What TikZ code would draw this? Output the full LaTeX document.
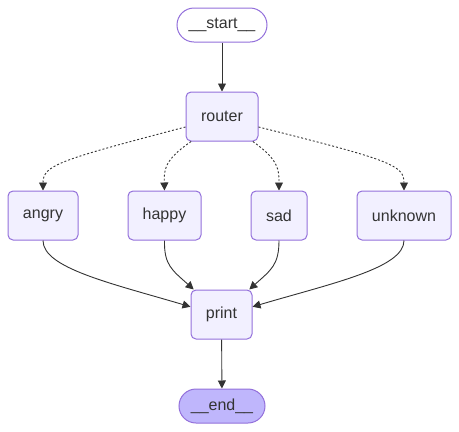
\documentclass[tikz,border=0pt]{standalone}
\usepackage{fontspec}
\setmainfont{Liberation Sans}
\usetikzlibrary{arrows.meta}
\definecolor{nodefill}{HTML}{F2F0FF}
\definecolor{nodeline}{HTML}{9370DB}
\definecolor{endfill}{HTML}{BFB6FC}
\definecolor{txt}{HTML}{333333}
\tikzset{
  box/.style={draw=nodeline, fill=nodefill, line width=1pt, rounded corners=5pt, text=txt, font=\fontsize{16}{19}\selectfont, inner sep=0pt, minimum height=49pt},
  term/.style={draw=nodeline, line width=1pt, rounded corners=17pt, text=txt, font=\fontsize{16}{19}\selectfont, inner sep=0pt, minimum height=34pt},
  edge/.style={draw=txt, line width=0.9pt, -{Triangle[length=8pt,width=8pt]}},
  cond/.style={edge, dash pattern=on 2pt off 2pt}
}
\begin{document}
\begin{tikzpicture}[x=1pt,y=-1pt]
\useasboundingbox (0,0) rectangle (459,432);
\node[term, fill=white, minimum width=90pt] (start) at (222,25) {\_\_start\_\_};
\node[box, minimum width=72pt] (router) at (222,116.5) {router};
\node[box, minimum width=70pt] (angry) at (43,215.5) {angry};
\node[box, minimum width=73pt] (happy) at (164.5,215.5) {happy};
\node[box, minimum width=56pt] (sad) at (279,215.5) {sad};
\node[box, minimum width=94pt] (unknown) at (404,215.5) {unknown};
\node[box, minimum width=61pt] (print) at (221.5,314.5) {print};
\node[term, fill=endfill, minimum width=86pt] (end) at (222,406) {\_\_end\_\_};

\draw[edge] (start) -- (router);
\draw[cond] (router.196) .. controls (60,160) and (43,165) .. (angry.north);
\draw[cond] (router.219) .. controls (164,160) and (164,170) .. (happy.north);
\draw[cond] (router.-39) .. controls (279,160) and (279,170) .. (sad.north);
\draw[cond] (router.-16) .. controls (390,160) and (404,165) .. (unknown.north);
\draw[edge] (angry.south) .. controls (43,268) and (110,283) .. (print.166);
\draw[edge] (happy.south) .. controls (164,265) and (172,270) .. (print.138);
\draw[edge] (sad.south) .. controls (279,265) and (271,270) .. (print.42);
\draw[edge] (unknown.south) .. controls (404,268) and (333,283) .. (print.14);
\draw[edge] (print) -- (end);
\end{tikzpicture}
\end{document}
